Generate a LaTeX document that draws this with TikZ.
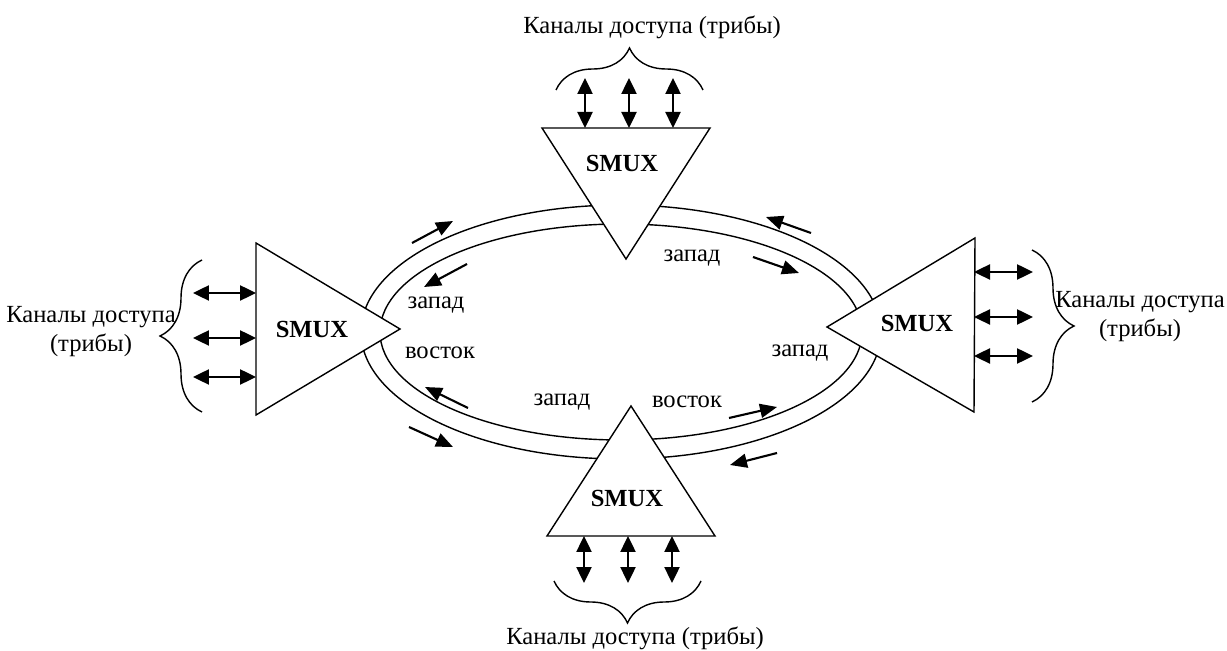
\documentclass[tikz,border=0pt]{standalone}
\usepackage{fontspec}
\setmainfont{Liberation Serif}
\usetikzlibrary{arrows.meta,decorations.pathreplacing}

\begin{document}
\begin{tikzpicture}[
        x=0.02cm, y=-0.02cm,
        font=\fontsize{14}{16.5}\selectfont,
        mux/.style={draw, line width=0.8pt, fill=white},
        chan/.style={{Triangle[length=0.32cm,width=0.3cm]}-{Triangle[length=0.32cm,width=0.3cm]}, line width=1.4pt},
        flow/.style={-{Triangle[length=0.34cm,width=0.28cm]}, line width=1.2pt},
        grp/.style={decorate, decoration={brace, amplitude=0.84cm}, line width=0.8pt},
        lbl/.style={inner sep=0pt}
    ]
        \useasboundingbox (0,0) rectangle (1227,651);

        % ring
        \coordinate (ring) at (621,332);
        \draw[line width=0.8pt] (ring) ellipse [x radius=260, y radius=127];
        \draw[line width=0.8pt] (ring) ellipse [x radius=241, y radius=108];

        % multiplexers
        \coordinate (tA) at (542,128); \coordinate (tB) at (710,128); \coordinate (tC) at (626,259);
        \draw[mux] (tA) -- (tB) -- (tC) -- cycle;
        \node[lbl] (smuxT) at (622,163) {\textbf{SMUX}};

        \coordinate (lA) at (256,243); \coordinate (lB) at (256,415); \coordinate (lC) at (400,329);
        \draw[mux] (lA) -- (lB) -- (lC) -- cycle;
        \node[lbl] (smuxL) at (312,329) {\textbf{SMUX}};

        \coordinate (rA) at (975,238); \coordinate (rB) at (974,412); \coordinate (rC) at (827,327);
        \draw[mux] (rA) -- (rB) -- (rC) -- cycle;
        \node[lbl] (smuxR) at (917,323) {\textbf{SMUX}};

        \coordinate (bA) at (547,536); \coordinate (bB) at (715,536); \coordinate (bC) at (631,406);
        \draw[mux] (bA) -- (bB) -- (bC) -- cycle;
        \node[lbl] (smuxB) at (627,498) {\textbf{SMUX}};

        % access channels
        \foreach \x [count=\i] in {585,629,673} {
            \coordinate (tu\i) at (\x,78); \coordinate (td\i) at (\x,128);
            \draw[chan] (tu\i) -- (td\i);
        }
        \foreach \x [count=\i] in {584,628,672} {
            \coordinate (bu\i) at (\x,536); \coordinate (bd\i) at (\x,583);
            \draw[chan] (bu\i) -- (bd\i);
        }
        \foreach \y [count=\i] in {293,338,377} {
            \coordinate (ll\i) at (193,\y); \coordinate (lr\i) at (256,\y);
            \draw[chan] (ll\i) -- (lr\i);
        }
        \foreach \y [count=\i] in {272,317,356} {
            \coordinate (rl\i) at (974,\y); \coordinate (rr\i) at (1033,\y);
            \draw[chan] (rl\i) -- (rr\i);
        }

        % braces and captions
        \coordinate (gt1) at (556,90); \coordinate (gt2) at (703,90);
        \draw[grp] (gt1) -- (gt2);
        \node (capT) at (652,27) {Каналы доступа (трибы)};

        \coordinate (gb1) at (701,581); \coordinate (gb2) at (554,581);
        \draw[grp] (gb1) -- (gb2);
        \node (capB) at (635,638) {Каналы доступа (трибы)};

        \coordinate (gl1) at (202,412); \coordinate (gl2) at (202,260);
        \draw[grp] (gl1) -- (gl2);
        \node[align=center] (capL) at (91,332) {Каналы доступа\\(трибы)};

        \coordinate (gr1) at (1032,250); \coordinate (gr2) at (1032,402);
        \draw[grp] (gr1) -- (gr2);
        \node[align=center] (capR) at (1140,317) {Каналы доступа\\(трибы)};

        % directions on the ring
        \coordinate (f1a) at (412,243); \coordinate (f1b) at (453,221);
        \coordinate (f2a) at (467,264); \coordinate (f2b) at (424,287);
        \coordinate (f3a) at (468,408); \coordinate (f3b) at (425,387);
        \coordinate (f4a) at (409,427); \coordinate (f4b) at (453,447);
        \coordinate (f5a) at (811,233); \coordinate (f5b) at (766,217);
        \coordinate (f6a) at (753,257); \coordinate (f6b) at (799,273);
        \coordinate (f7a) at (729,418); \coordinate (f7b) at (777,407);
        \coordinate (f8a) at (777,453); \coordinate (f8b) at (730,465);
        \foreach \i in {1,...,8} {
            \draw[flow] (f\i a) -- (f\i b);
        }

        % port labels
        \node (wT) at (692,258) {запад};
        \node (wL) at (436,305) {запад};
        \node (eL) at (440,353) {восток};
        \node (wB) at (562,402) {запад};
        \node (eB) at (687,402) {восток};
        \node (wR) at (800,353) {запад};
    \end{tikzpicture}
\end{document}
